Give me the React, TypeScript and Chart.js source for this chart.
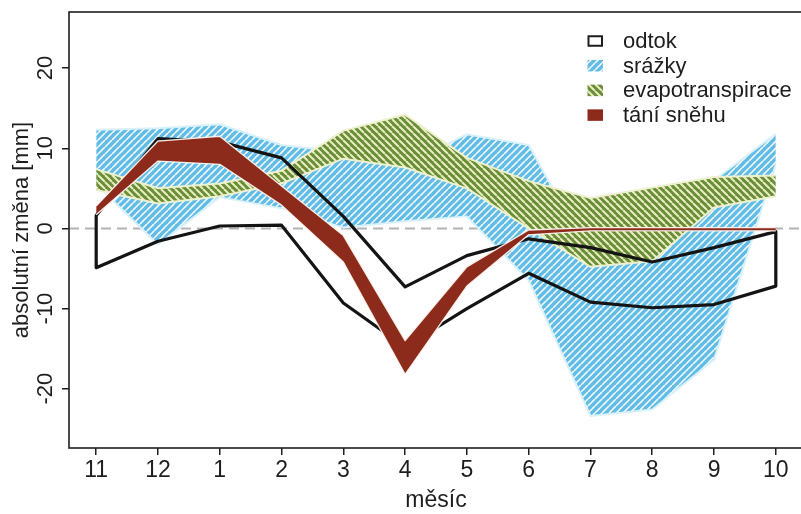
import { useEffect, useRef } from 'react';
import { Chart, registerables } from 'chart.js';

Chart.register(...registerables);

// Hydrological year: November .. October
const monthLabels = ['11', '12', '1', '2', '3', '4', '5', '6', '7', '8', '9', '10'];
const yTickValues = [-20, -10, 0, 10, 20];

// Range of change (lower / upper bound) for each component, mm
const odtokUpper = [1.6, 11.2, 10.8, 8.8, 1.5, -7.3, -3.4, -1.3, -2.4, -4.2, -2.4, -0.4];
const odtokLower = [-4.9, -1.6, 0.3, 0.4, -9.3, -14.8, -10.0, -5.6, -9.2, -9.9, -9.5, -7.2];

const srazkyUpper = [12.3, 12.5, 13.0, 10.4, 9.5, 7.8, 11.75, 10.4, -3.5, -2.0, 6.0, 11.8];
const srazkyLower = [5.5, -2.0, 3.9, 2.5, 0.1, 0.9, 1.5, -6.5, -23.4, -22.6, -16.4, 8.0];

const evapoUpper = [7.4, 5.0, 5.6, 7.2, 12.2, 14.2, 8.8, 5.9, 3.8, 5.1, 6.4, 6.6];
const evapoLower = [4.8, 3.1, 4.0, 5.6, 8.7, 7.6, 5.0, 0.0, -4.8, -4.1, 2.6, 4.0];

const taniUpper = [2.8, 10.9, 11.5, 5.3, -0.9, -14.0, -4.8, -0.2, 0.1, 0.1, 0.1, 0.1];
const taniLower = [1.7, 8.4, 8.0, 2.9, -4.2, -18.2, -7.2, -0.8, -0.3, -0.3, -0.3, -0.3];

const legendLabels = ['odtok', 'srážky', 'evapotranspirace', 'tání sněhu'];

const FONT = "'Liberation Sans', Arial, Helvetica, sans-serif";
const INK = '#1e1e1e';
const BLUE = '#62bde6';
const GREEN = '#6a8d37';
const RED = '#8c2b1b';

function makeHatch(bg: string, stroke: string, period: number, width: number, rising: boolean) {
  const c = document.createElement('canvas');
  c.width = period;
  c.height = period;
  const g = c.getContext('2d')!;
  g.fillStyle = bg;
  g.fillRect(0, 0, period, period);
  g.strokeStyle = stroke;
  g.lineWidth = width;
  g.beginPath();
  for (const o of [-period, 0, period]) {
    if (rising) {
      g.moveTo(o, period);
      g.lineTo(o + period, 0);
    } else {
      g.moveTo(o, 0);
      g.lineTo(o + period, period);
    }
  }
  g.stroke();
  return g.createPattern(c, 'repeat')!;
}

const pts = (arr: number[]) => arr.map((y, i) => ({ x: i, y }));

export default function App() {
  const ref = useRef<HTMLCanvasElement | null>(null);

  useEffect(() => {
    const canvas = ref.current;
    if (!canvas) return;

    const blueHatch = makeHatch(BLUE, '#ffffff', 7, 1.5, true);
    const greenHatch = makeHatch(GREEN, '#e9eec2', 7, 2.0, false);

    // odtok drawn as closed outline: upper bound forward, lower bound back
    const odtokPolygon = [
      ...pts(odtokUpper),
      ...pts(odtokLower).reverse(),
      { x: 0, y: odtokUpper[0] },
    ];

    const zeroLine = {
      id: 'zeroLine',
      beforeDatasetsDraw(chart: any) {
        const { ctx, chartArea: a, scales } = chart;
        const y = scales.y.getPixelForValue(0);
        ctx.save();
        ctx.strokeStyle = '#b3b3b3';
        ctx.lineWidth = 2;
        ctx.setLineDash([10, 6]);
        ctx.beginPath();
        ctx.moveTo(a.left, y);
        ctx.lineTo(a.right, y);
        ctx.stroke();
        ctx.restore();
      },
    };

    const decorations = {
      id: 'decorations',
      afterDraw(chart: any) {
        const { ctx, chartArea: a, scales } = chart;
        ctx.save();
        // rotated y tick labels
        ctx.font = `22px ${FONT}`;
        ctx.fillStyle = INK;
        ctx.textAlign = 'center';
        ctx.textBaseline = 'middle';
        for (const v of yTickValues) {
          const py = scales.y.getPixelForValue(v);
          ctx.save();
          ctx.translate(a.left - 23, py);
          ctx.rotate(-Math.PI / 2);
          ctx.fillText(String(v), 0, 0);
          ctx.restore();
        }
        // box around the plot region
        ctx.strokeStyle = INK;
        ctx.lineWidth = 1.6;
        ctx.strokeRect(a.left, a.top, a.right - a.left, a.bottom - a.top);

        // legend
        const bx = a.right - 215.5;
        const tx = a.right - 180;
        const bw = 15.5;
        const bh = 11.5;
        const fills: (string | CanvasPattern | null)[] = [null, blueHatch, greenHatch, RED];
        ctx.font = `22px ${FONT}`;
        ctx.textAlign = 'left';
        ctx.textBaseline = 'middle';
        legendLabels.forEach((label, i) => {
          const cy = a.top + 29 + i * 24.7;
          const f = fills[i];
          if (f) {
            ctx.fillStyle = f;
            ctx.fillRect(bx, cy - bh / 2, bw, bh);
          } else {
            ctx.fillStyle = '#fff';
            ctx.fillRect(bx, cy - bh / 2, bw, bh);
            ctx.strokeStyle = INK;
            ctx.lineWidth = 2;
            ctx.strokeRect(bx + 1, cy - bh / 2 + 1, bw - 2, bh - 2);
          }
          ctx.fillStyle = INK;
          ctx.fillText(label, tx, cy + 1);
        });
        ctx.restore();
      },
    };

    const band = (label: string, upper: number[], lower: number[], bg: any, border: string, bw: number, order: number) => [
      {
        label,
        data: pts(upper),
        fill: '+1',
        backgroundColor: bg,
        borderColor: border,
        borderWidth: bw,
        borderJoinStyle: 'round',
        pointRadius: 0,
        tension: 0,
        order,
      },
      {
        label: label + ' (dolní mez)',
        data: pts(lower),
        fill: false,
        backgroundColor: bg,
        borderColor: border,
        borderWidth: bw,
        borderJoinStyle: 'round',
        pointRadius: 0,
        tension: 0,
        order: order - 1,
      },
    ];

    const chart = new Chart(canvas, {
      type: 'line',
      data: {
        datasets: [
          ...band('tání sněhu', taniUpper, taniLower, RED, 'rgba(255,244,238,0.95)', 1.3, 10),
          {
            label: 'odtok',
            data: odtokPolygon,
            fill: false,
            borderColor: '#141414',
            borderWidth: 3.2,
            borderJoinStyle: 'round',
            borderCapStyle: 'round',
            pointRadius: 0,
            tension: 0,
            order: 20,
          },
          ...band('evapotranspirace', evapoUpper, evapoLower, greenHatch, '#eef1cf', 2, 30),
          ...band('srážky', srazkyUpper, srazkyLower, blueHatch, '#d8f1fb', 2, 40),
        ] as any,
      },
      options: {
        animation: false,
        responsive: false,
        devicePixelRatio: 1,
        events: [],
        layout: { padding: { top: 12, right: 7, left: 0, bottom: 0 } },
        plugins: {
          legend: { display: false },
          tooltip: { enabled: false },
        },
        scales: {
          x: {
            type: 'linear',
            min: -0.44,
            max: 11.44,
            afterBuildTicks: (s: any) => {
              s.ticks = monthLabels.map((_, i) => ({ value: i }));
            },
            afterFit: (s: any) => {
              s.height = 66;
            },
            border: { display: false },
            grid: {
              drawOnChartArea: false,
              drawTicks: true,
              tickLength: 7,
              tickColor: INK,
              lineWidth: 1.5,
            },
            ticks: {
              autoSkip: false,
              maxRotation: 0,
              padding: 2,
              color: INK,
              font: { family: FONT, size: 23 },
              callback: (v: any) => monthLabels[Math.round(Number(v))] ?? '',
            },
            title: {
              display: true,
              text: 'měsíc',
              color: INK,
              font: { family: FONT, size: 23 },
              padding: { top: 0, bottom: 0 },
            },
          },
          y: {
            type: 'linear',
            min: -27.4,
            max: 27.0,
            afterBuildTicks: (s: any) => {
              s.ticks = yTickValues.map((v) => ({ value: v }));
            },
            afterFit: (s: any) => {
              s.width = 69;
            },
            border: { display: false },
            grid: {
              drawOnChartArea: false,
              drawTicks: true,
              tickLength: 7,
              tickColor: INK,
              lineWidth: 1.5,
            },
            ticks: { display: false },
            title: {
              display: true,
              text: 'absolutní změna [mm]',
              color: INK,
              font: { family: FONT, size: 22 },
              padding: { top: 9, bottom: 0 },
            },
          },
        },
      },
      plugins: [zeroLine, decorations],
    });

    return () => chart.destroy();
  }, []);

  return (
    <div
      style={{
        position: 'fixed',
        left: 0,
        top: 0,
        width: 801,
        height: 514,
        overflow: 'hidden',
        background: '#fff',
      }}
    >
      <canvas ref={ref} width={810} height={514} style={{ display: 'block', width: 810, height: 514 }} />
    </div>
  );
}
